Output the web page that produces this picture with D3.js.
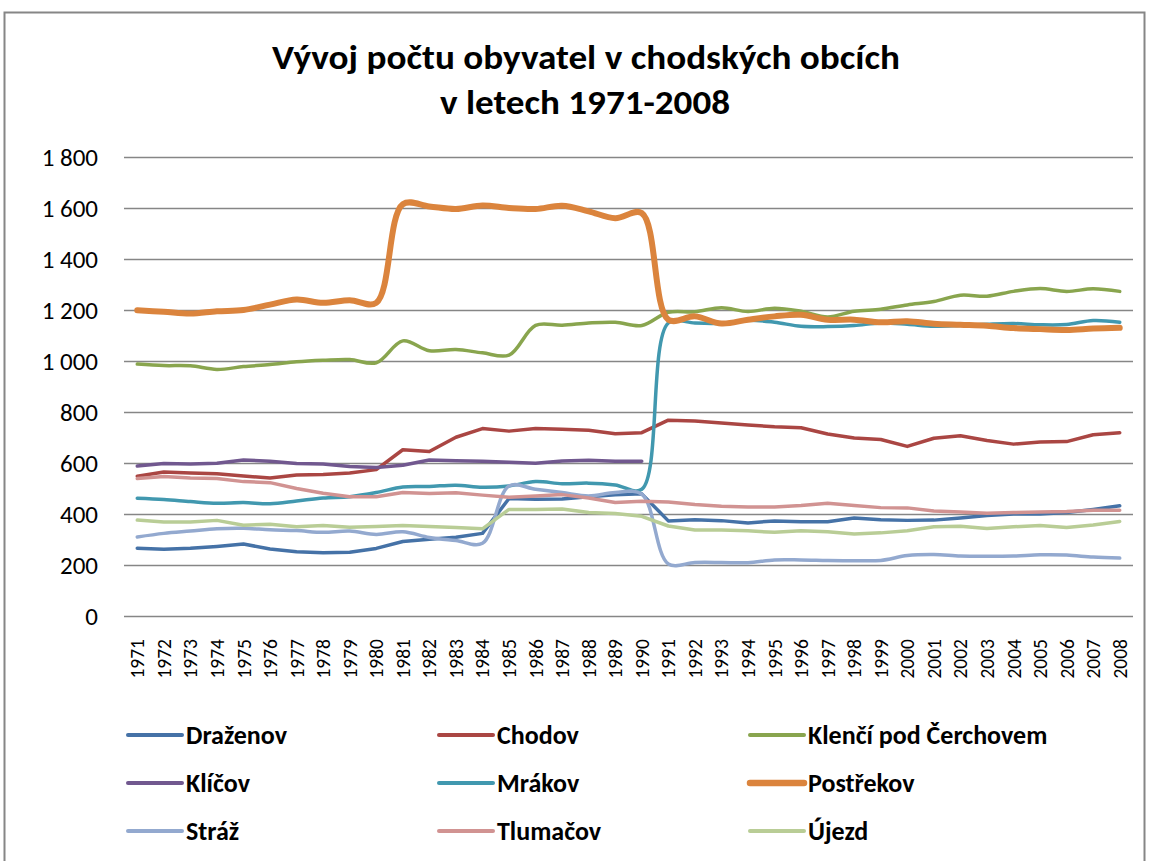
<!DOCTYPE html>
<html>
<head>
<meta charset="utf-8">
<title>Vývoj počtu obyvatel</title>
<script src="https://cdn.jsdelivr.net/npm/d3@7/dist/d3.min.js"></script>
<style>
    body { margin: 0; background: #fff; }
    text { font-family: Carlito, Lato, "Liberation Sans", sans-serif; }
</style>
</head>
<body>
<script>
    // years on the x axis
    var years = d3.range(1971, 2009).map(String)

    var drazenov = [266, 262, 266, 273, 282, 263, 252, 248, 250, 265, 292, 301, 309, 324, 461, 458, 459, 468, 475, 479,
        373, 377, 374, 365, 373, 370, 370, 384, 377, 375, 376, 384, 394, 400, 400, 406, 418, 432]
    var chodov = [548, 565, 561, 558, 549, 541, 553, 555, 561, 574, 652, 645, 701, 735, 725, 735, 732, 728, 715, 719,
        768, 765, 757, 749, 742, 738, 714, 698, 692, 665, 697, 707, 688, 674, 682, 684, 711, 719]
    var klenci = [988, 982, 981, 967, 978, 986, 997, 1003, 1006, 993, 1079, 1040, 1045, 1032, 1023, 1140, 1140, 1149, 1152, 1139,
        1191, 1193, 1209, 1194, 1207, 1195, 1173, 1195, 1203, 1220, 1233, 1258, 1254, 1273, 1284, 1273, 1283, 1273]
    var klicov = [588, 598, 596, 599, 612, 607, 598, 596, 586, 582, 591, 612, 609, 607, 603, 599, 608, 611, 607, 607,
        null, null, null, null, null, null, null, null, null, null, null, null, null, null, null, null, null, null]
    var mrakov = [462, 457, 449, 442, 445, 440, 451, 463, 468, 484, 506, 508, 513, 505, 510, 527, 519, 521, 514, 497,
        1149, 1149, 1147, 1160, 1152, 1136, 1135, 1139, 1149, 1144, 1136, 1139, 1144, 1147, 1142, 1143, 1159, 1152]
    var postrekov = [1199, 1193, 1186, 1195, 1200, 1221, 1241, 1228, 1238, 1228, 1615, 1606, 1596, 1610, 1600, 1596, 1609, 1587, 1560, 1580,
        1162, 1175, 1147, 1162, 1175, 1181, 1162, 1162, 1152, 1156, 1146, 1142, 1138, 1129, 1125, 1122, 1127, 1130]
    var straz = [310, 324, 333, 342, 344, 338, 335, 328, 333, 320, 330, 308, 296, 285, 510, 497, 484, 471, 484, 478,
        204, 210, 210, 209, 220, 220, 218, 217, 218, 237, 241, 235, 234, 235, 240, 239, 231, 227]
    var tlumacov = [539, 547, 541, 539, 527, 523, 500, 481, 468, 468, 484, 480, 483, 474, 466, 471, 476, 463, 445, 450,
        447, 437, 430, 427, 427, 433, 442, 433, 425, 424, 412, 408, 403, 406, 408, 410, 415, 415]
    var ujezd = [376, 369, 369, 375, 356, 360, 350, 355, 348, 351, 355, 351, 347, 342, 418, 418, 420, 406, 402, 391,
        353, 337, 337, 334, 328, 334, 330, 322, 326, 334, 350, 352, 343, 350, 355, 347, 357, 371]

    var names = ["Draženov", "Chodov", "Klenčí pod Čerchovem", "Klíčov", "Mrákov", "Postřekov", "Stráž", "Tlumačov", "Újezd"]
    var colors = ["#4572A7", "#AA4643", "#89A54E", "#71588F", "#4198AF", "#DB843D", "#93A9CF", "#D19392", "#B9CD96"]
    var yTicks = [0, 200, 400, 600, 800, 1000, 1200, 1400, 1600, 1800]

    var series = [drazenov, chodov, klenci, klicov, mrakov, postrekov, straz, tlumacov, ujezd]
    var smooth = [false, false, true, false, true, true, true, false, false]
    var widths = [3.5, 3.5, 3.5, 3.5, 3.5, 6, 3.5, 3.5, 3.5]

    var width = 1151
    var height = 861

    var svg = d3.select("body")
        .append("svg")
        .attr("width", width)
        .attr("height", height)

    // outer frame
    svg.append("rect")
        .attr("x", 4.5)
        .attr("y", 12.5)
        .attr("width", 1140)
        .attr("height", 870)
        .attr("fill", "none")
        .attr("stroke", "#868686")
        .attr("stroke-width", 2)

    svg.append("text")
        .attr("x", 586)
        .attr("y", 69)
        .attr("text-anchor", "middle")
        .attr("font-size", "34px")
        .attr("font-weight", "bold")
        .attr("textLength", 628)
        .attr("lengthAdjust", "spacingAndGlyphs")
        .text("Vývoj počtu obyvatel v chodských obcích")
    svg.append("text")
        .attr("x", 585)
        .attr("y", 114)
        .attr("text-anchor", "middle")
        .attr("font-size", "34px")
        .attr("font-weight", "bold")
        .attr("textLength", 290)
        .attr("lengthAdjust", "spacingAndGlyphs")
        .text("v letech 1971-2008")

    var x = d3.scaleBand()
        .domain(years)
        .range([124, 1133])
    var y = d3.scaleLinear()
        .domain([0, 1800])
        .range([616, 157])

    // grid lines
    svg.append("g")
        .selectAll("line")
        .data(yTicks)
        .enter()
        .append("line")
        .attr("x1", 124)
        .attr("x2", 1133)
        .attr("y1", d => Math.round(y(d)) + 0.5)
        .attr("y2", d => Math.round(y(d)) + 0.5)
        .attr("stroke", "#868686")
        .attr("stroke-width", 1.5)

    var yAxis = svg.append("g")
        .attr("transform", "translate(124,0)")
        .call(d3.axisLeft(y).tickValues(yTicks).tickSize(0).tickPadding(26)
            .tickFormat(d => d3.format(",")(d).replace(",", " ")))
    yAxis.select(".domain").remove()
    yAxis.selectAll("text")
        .attr("font-size", "25px")
        .attr("fill", "#000")
        .style("font-family", "Carlito, Lato, sans-serif")

    var xAxis = svg.append("g")
        .attr("transform", "translate(0,616)")
        .call(d3.axisBottom(x).tickSize(0))
    xAxis.select(".domain").remove()
    xAxis.selectAll("text")
        .attr("font-size", "19.5px")
        .attr("fill", "#000")
        .style("font-family", "Carlito, Lato, sans-serif")
        .attr("transform", "rotate(-90)")
        .attr("text-anchor", "end")
        .attr("x", -23)
        .attr("y", 0)
        .attr("dy", "0.36em")

    series.forEach(function (vals, k) {
        var line = d3.line()
            .defined(d => d != null)
            .x((d, i) => x(years[i]) + x.bandwidth() / 2)
            .y(d => y(d))
            .curve(smooth[k] ? d3.curveCatmullRom.alpha(0.5) : d3.curveLinear)
        svg.append("path")
            .datum(vals)
            .attr("fill", "none")
            .attr("stroke", colors[k])
            .attr("stroke-width", widths[k])
            .attr("stroke-linejoin", "round")
            .attr("stroke-linecap", "round")
            .attr("d", line)
    })

    // legend, 3 columns
    var legend = svg.append("g")
    names.forEach(function (n, k) {
        var col = k % 3
        var row = Math.floor(k / 3)
        var lx = 128 + col * 311
        var ly = 735 + row * 48
        legend.append("line")
            .attr("x1", lx)
            .attr("x2", lx + 54)
            .attr("y1", ly)
            .attr("y2", ly)
            .attr("stroke", colors[k])
            .attr("stroke-width", widths[k] + 0.5)
            .attr("stroke-linecap", "round")
        legend.append("text")
            .attr("x", lx + 58)
            .attr("y", ly + 9)
            .attr("font-size", "26px")
            .attr("font-weight", "bold")
            .text(n)
    })
</script>
</body>
</html>
